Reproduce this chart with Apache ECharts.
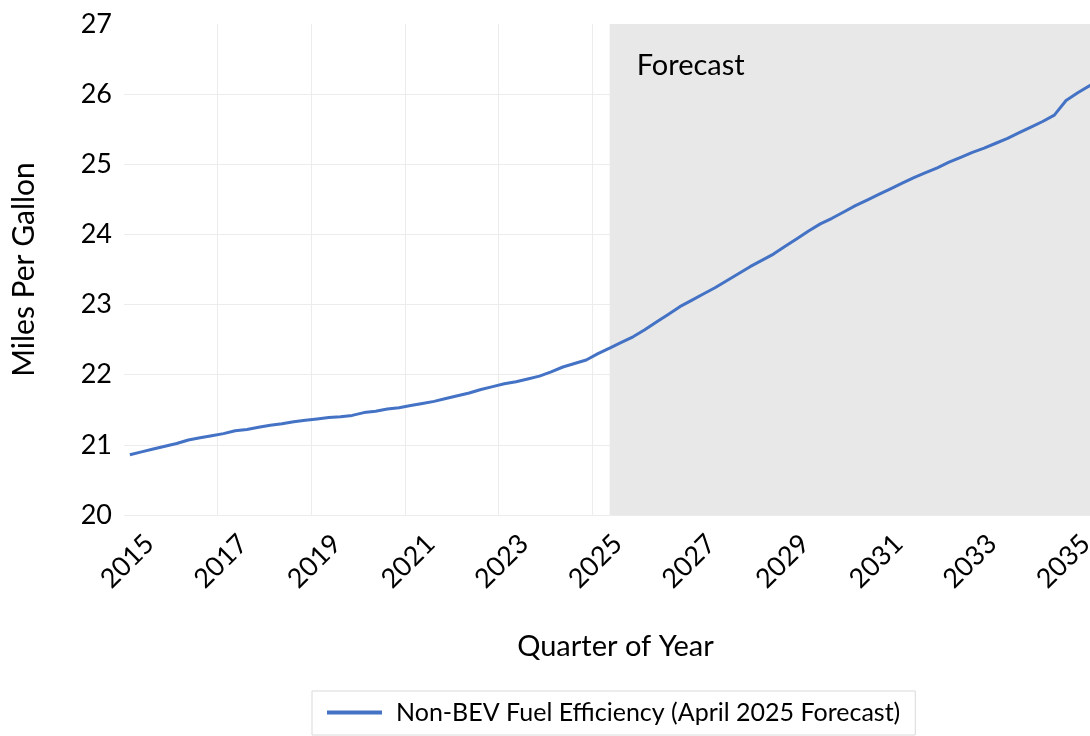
<!DOCTYPE html>
<html>
<head>
<meta charset="utf-8">
<script src="https://cdn.jsdelivr.net/npm/echarts@6/dist/echarts.min.js"></script>
<style>
html,body{margin:0;padding:0;background:#fff;}
#chart{width:1090px;height:736px;}
</style>
</head>
<body>
<div id="chart"></div>
<script>
// ---- data ----
var years = [2015,2016,2017,2018,2019,2020,2021,2022,2023,2024,2025,2026,2027,2028,2029,2030,2031,2032,2033,2034,2035];
var quarters = ['Q1','Q2','Q3','Q4'];
var seriesName = 'Non-BEV Fuel Efficiency (April 2025 Forecast)';
// quarterly MPG, 2015 Q1 .. 2035 Q4
var mpg = [
  20.86,20.90,20.94,20.98, 21.02,21.07,21.10,21.13, 21.16,21.20,21.22,21.25, 21.28,21.30,21.33,21.35,
  21.37,21.39,21.40,21.42, 21.46,21.48,21.51,21.53, 21.56,21.59,21.62,21.66, 21.70,21.74,21.79,21.83,
  21.87,21.90,21.94,21.98, 22.04,22.11,22.16,22.21, 22.30,22.38,22.46,22.54, 22.64,22.75,22.86,22.97,
  23.06,23.15,23.24,23.34, 23.44,23.54,23.63,23.72, 23.83,23.94,24.05,24.15, 24.23,24.32,24.41,24.49,
  24.57,24.65,24.73,24.81, 24.88,24.95,25.03,25.10, 25.17,25.23,25.30,25.37, 25.45,25.53,25.61,25.70,
  25.91,26.02,26.12,26.21
];
var forecastStart = '2025 Q2';
var forecastEnd = '2035 Q4';
var forecastLabel = 'Forecast';
var yTicks = [20,21,22,23,24,25,26,27];

var categories = [];
years.forEach(function(y){ quarters.forEach(function(q){ categories.push(y + ' ' + q); }); });

var FONT = 'Lato, "Open Sans", sans-serif';
var chart = echarts.init(document.getElementById('chart'), null, {renderer:'canvas'});
chart.setOption({
  animation:false,
  backgroundColor:'#ffffff',
  grid:{left:124, right:-17, top:24, bottom:221, containLabel:false, outerBoundsMode:'none'},
  xAxis:{
    type:'category',
    data:categories,
    boundaryGap:true,
    name:'Quarter of Year',
    nameLocation:'middle',
    nameGap:117,
    nameTextStyle:{fontFamily:FONT, fontSize:29, color:'#000'},
    axisLine:{show:false},
    axisTick:{show:false},
    axisLabel:{
      interval:7, rotate:45, margin:44, align:'center', verticalAlign:'middle',
      padding:[0,7,7,0],
      fontFamily:FONT, fontSize:27, color:'#000',
      formatter:function(v){ return v.split(' ')[0]; }
    },
    splitLine:{show:true, interval:function(i){ return i>0 && i%8===0; }, lineStyle:{color:'#ececec', width:1}}
  },
  yAxis:{
    type:'value',
    min:yTicks[0], max:yTicks[yTicks.length-1], interval:1,
    name:'Miles Per Gallon',
    nameLocation:'middle',
    nameGap:85,
    nameTextStyle:{fontFamily:FONT, fontSize:30, color:'#000'},
    axisLine:{show:false},
    axisTick:{show:false},
    axisLabel:{margin:12, fontFamily:FONT, fontSize:27, color:'#000'},
    splitLine:{show:true, showMaxLine:false, lineStyle:{color:'#ececec', width:1}}
  },
  legend:{
    data:[seriesName],
    left:312, top:691,
    padding:[9,15,10,15],
    borderColor:'#d9d9d9', borderWidth:1,
    icon:'rect', itemWidth:55, itemHeight:4,
    itemStyle:{color:'#4472C4'},
    textStyle:{fontFamily:FONT, fontSize:25, color:'#000', padding:[0,0,0,9]}
  },
  series:[{
    name:seriesName,
    type:'line',
    data:mpg,
    symbol:'none',
    smooth:false,
    lineStyle:{color:'#4472C4', width:3},
    itemStyle:{color:'#4472C4'},
    z:3,
    markArea:{
      silent:true,
      z:1,
      itemStyle:{color:'#e8e8e8'},
      label:{show:true, position:[27,27], align:'left', verticalAlign:'top', fontFamily:FONT, fontSize:29, color:'#000'},
      data:[[{xAxis:forecastStart, name:forecastLabel},{xAxis:forecastEnd}]]
    }
  }]
});
</script>
</body>
</html>
